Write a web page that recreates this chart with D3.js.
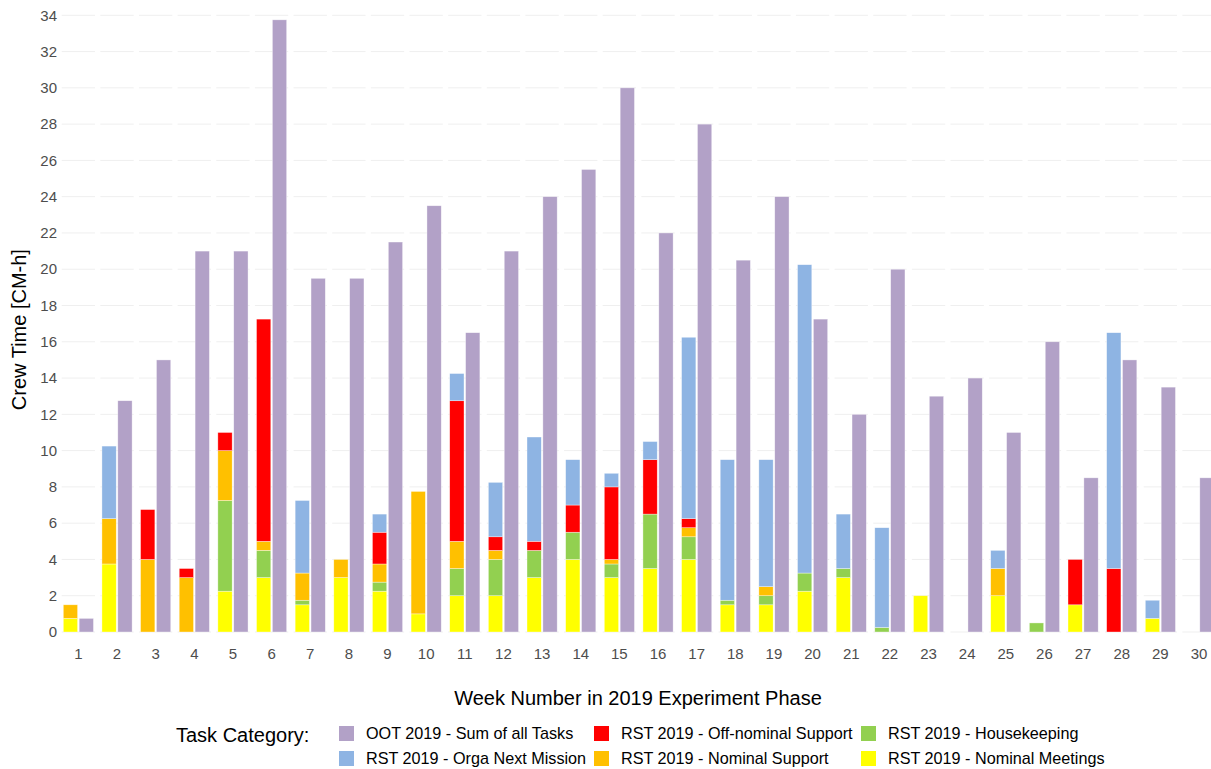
<!DOCTYPE html>
<html>
<head>
<meta charset="utf-8" />
<style>
  html, body { margin: 0; padding: 0; background: #fff; }
  svg { display: block; font-family: "Liberation Sans", Arial, sans-serif; }
  .grid line { stroke: #efefef; stroke-width: 1; }
  .tick-label { fill: #4d4d4d; font-size: 15px; }
  .bar { stroke: #ffffff; stroke-opacity: 0.6; stroke-width: 0.6; }
</style>
</head>
<body>
<div id="vis"></div>
<script src="https://d3js.org/d3.v7.min.js"></script>
<script>
(function() {
  // ** DATA **
  var weeks = d3.range(1, 31);

  // stacked RST 2019 categories, bottom to top
  var nominalMeetings = [0.75, 3.75, 0, 0, 2.25, 3, 1.5, 3, 2.25, 1, 2, 2, 3, 4, 3, 3.5, 4, 1.5, 1.5, 2.25, 3, 0, 2, 0, 2, 0, 1.5, 0, 0.75, 0];
  var housekeeping    = [0, 0, 0, 0, 5, 1.5, 0.25, 0, 0.5, 0, 1.5, 2, 1.5, 1.5, 0.75, 3, 1.25, 0.25, 0.5, 1, 0.5, 0.25, 0, 0, 0, 0.5, 0, 0, 0, 0];
  var nominalSupport  = [0.75, 2.5, 4, 3, 2.75, 0.5, 1.5, 1, 1, 6.75, 1.5, 0.5, 0, 0, 0.25, 0, 0.5, 0, 0.5, 0, 0, 0, 0, 0, 1.5, 0, 0, 0, 0, 0];
  var offNominal      = [0, 0, 2.75, 0.5, 1, 12.25, 0, 0, 1.75, 0, 7.75, 0.75, 0.5, 1.5, 4, 3, 0.5, 0, 0, 0, 0, 0, 0, 0, 0, 0, 2.5, 3.5, 0, 0];
  var orgaNext        = [0, 4, 0, 0, 0, 0, 4, 0, 1, 0, 1.5, 3, 5.75, 2.5, 0.75, 1, 10, 7.75, 7, 17, 3, 5.5, 0, 0, 1, 0, 0, 13, 1, 0];

  // OOT 2019 sum of all tasks
  var ootSum = [0.75, 12.75, 15, 21, 21, 33.75, 19.5, 19.5, 21.5, 23.5, 16.5, 21, 24, 25.5, 30, 22, 28, 20.5, 24, 17.25, 12, 20, 13, 14, 11, 16, 8.5, 15, 13.5, 8.5];

  var yTicks = d3.range(0, 35, 2);

  var stackKeys = ["meet", "house", "nomsup", "offnom", "orga"];
  var colors = {
    oot: "#b2a1c7",
    orga: "#8eb4e3",
    offnom: "#ff0000",
    nomsup: "#ffc000",
    house: "#92d050",
    meet: "#ffff00"
  };
  var legendItems = [
    { key: "oot",    label: "OOT 2019 - Sum of all Tasks" },
    { key: "orga",   label: "RST 2019 - Orga Next Mission" },
    { key: "offnom", label: "RST 2019 - Off-nominal Support" },
    { key: "nomsup", label: "RST 2019 - Nominal Support" },
    { key: "house",  label: "RST 2019 - Housekeeping" },
    { key: "meet",   label: "RST 2019 - Nominal Meetings" }
  ];

  var rows = weeks.map(function(w, i) {
    return { week: w, meet: nominalMeetings[i], house: housekeeping[i], nomsup: nominalSupport[i],
             offnom: offNominal[i], orga: orgaNext[i], oot: ootSum[i] };
  });

  // ** SETUP **
  var W = 1211, H = 769;
  var left = 61.7, right = 1215.7, top = 15.3, bottom = 632;

  var svg = d3.select("#vis").append("svg").attr("width", W).attr("height", H);

  var x = d3.scaleBand().domain(weeks).range([left, right]).paddingInner(0.137).paddingOuter(0);
  var xi = d3.scaleBand().domain(["rst", "oot"]).range([0, x.bandwidth()]).paddingInner(0.1).paddingOuter(0.1);
  var y = d3.scaleLinear().domain([0, 34]).range([bottom, top]);

  // gridlines, broken per week panel
  var grid = svg.append("g").attr("class", "grid");
  weeks.forEach(function(w) {
    grid.append("g").selectAll("line").data(yTicks).enter().append("line")
      .attr("x1", x(w)).attr("x2", x(w) + x.bandwidth())
      .attr("y1", function(d) { return y(d); }).attr("y2", function(d) { return y(d); });
  });

  // y tick labels
  svg.append("g").selectAll("text").data(yTicks).enter().append("text")
    .attr("class", "tick-label")
    .attr("x", 57).attr("y", function(d) { return y(d); })
    .attr("dy", "0.35em").attr("text-anchor", "end")
    .text(function(d) { return d; });

  // x tick labels (week numbers)
  svg.append("g").selectAll("text").data(weeks).enter().append("text")
    .attr("class", "tick-label")
    .attr("x", function(d) { return x(d) + x.bandwidth() / 2; })
    .attr("y", 659).attr("text-anchor", "middle")
    .text(function(d) { return d; });

  // stacked RST bars
  var series = d3.stack().keys(stackKeys)(rows);
  svg.append("g").selectAll("g").data(series).enter().append("g")
      .attr("fill", function(d) { return colors[d.key]; })
    .selectAll("rect").data(function(d) { return d.filter(function(p) { return p[1] - p[0] > 0; }); })
    .enter().append("rect")
      .attr("class", "bar")
      .attr("x", function(d) { return x(d.data.week) + xi("rst"); })
      .attr("width", xi.bandwidth())
      .attr("y", function(d) { return y(d[1]); })
      .attr("height", function(d) { return y(d[0]) - y(d[1]); });

  // OOT bars
  svg.append("g").selectAll("rect").data(rows.filter(function(d) { return d.oot > 0; }))
    .enter().append("rect")
      .attr("class", "bar")
      .attr("fill", colors.oot)
      .attr("x", function(d) { return x(d.week) + xi("oot"); })
      .attr("width", xi.bandwidth())
      .attr("y", function(d) { return y(d.oot); })
      .attr("height", function(d) { return y(0) - y(d.oot); });

  // axis titles
  svg.append("text")
    .attr("transform", "translate(26," + ((top + bottom) / 2 + 6) + ") rotate(-90)")
    .attr("text-anchor", "middle").attr("font-size", "20px").attr("fill", "#000")
    .text("Crew Time [CM-h]");

  svg.append("text")
    .attr("x", 638).attr("y", 705).attr("text-anchor", "middle")
    .attr("font-size", "20px").attr("fill", "#000")
    .text("Week Number in 2019 Experiment Phase");

  // ** LEGEND **
  svg.append("text")
    .attr("x", 176).attr("y", 742).attr("font-size", "20px").attr("fill", "#000")
    .text("Task Category:");

  var colX = [339, 594, 861], rowY = [726, 751];
  var leg = svg.append("g").selectAll("g").data(legendItems).enter().append("g")
    .attr("transform", function(d, i) {
      return "translate(" + colX[Math.floor(i / 2)] + "," + rowY[i % 2] + ")";
    });
  leg.append("rect").attr("width", 15).attr("height", 15)
    .attr("fill", function(d) { return colors[d.key]; });
  leg.append("text").attr("x", 27).attr("y", 7.5).attr("dy", "0.35em")
    .attr("font-size", "16.2px").attr("fill", "#000")
    .text(function(d) { return d.label; });
})();
</script>
</body>
</html>
